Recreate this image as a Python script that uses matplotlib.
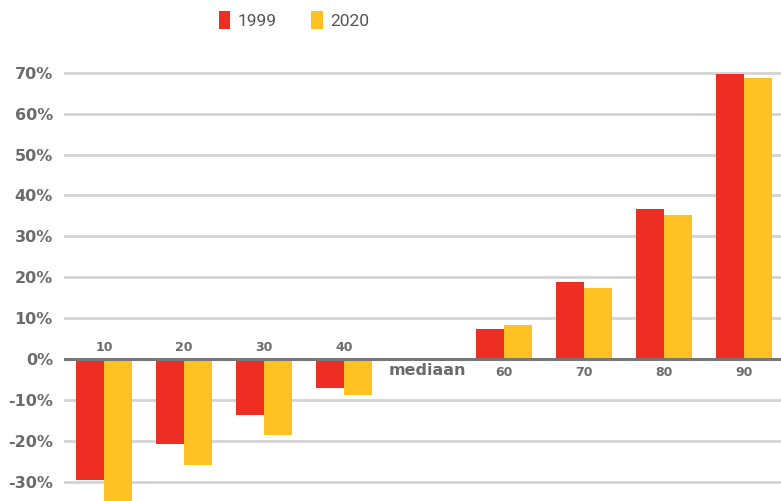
import matplotlib.pyplot as plt
import numpy as np

categorieen = ["10", "20", "30", "40", "mediaan", "60", "70", "80", "90"]
waarden_1999 = [-29.6, -20.8, -13.7, -7.0, 0.0, 7.3, 18.8, 36.7, 69.7]
waarden_2020 = [-35.5, -25.9, -18.6, -8.8, 0.0, 8.3, 17.4, 35.2, 68.8]
yticks = [-30, -20, -10, 0, 10, 20, 30, 40, 50, 60, 70]

ROOD = "#EE2E24"
GEEL = "#FFC222"
GRIJS = "#6b6b6b"

fig = plt.figure(figsize=(7.81, 5.01), dpi=100)
ax = fig.add_axes([64 / 781, 0, (781 - 64) / 781, (501 - 52) / 501])

x = np.arange(len(categorieen))
w = 0.35
ax.bar(x - w / 2, waarden_1999, width=w, color=ROOD, label="1999", zorder=3)
ax.bar(x + w / 2, waarden_2020, width=w, color=GEEL, label="2020", zorder=3)

# rasterlijnen
for t in yticks:
    if t == 0:
        ax.axhline(0, color="#777777", lw=2.2, zorder=4)
    else:
        ax.axhline(t, color="#d4d4d4", lw=2.0, zorder=1)

ax.set_xlim(-0.5, 8.46)
ax.set_ylim(-34.75, 75.1)
ax.set_yticks(yticks)
ax.set_yticklabels([f"{t}%" for t in yticks], fontsize=11.5, fontweight="bold", color=GRIJS)
ax.tick_params(axis="y", length=0, pad=8)
ax.set_xticks([])
for s in ax.spines.values():
    s.set_visible(False)

# categorie-labels langs de nullijn
for i, c in enumerate(categorieen):
    if c == "mediaan":
        ax.text(i + 0.04, -2.9, c, ha="center", va="center", fontsize=11.5,
                fontweight="bold", color=GRIJS)
    elif waarden_1999[i] < 0:
        ax.text(i, 2.9, c, ha="center", va="center", fontsize=9,
                fontweight="bold", color=GRIJS)
    else:
        ax.text(i, -3.2, c, ha="center", va="center", fontsize=9,
                fontweight="bold", color=GRIJS)

fig.legend(loc="upper center", bbox_to_anchor=(0.376, 1.01), ncol=2, frameon=False,
           handlelength=0.68, handleheight=1.25, handletextpad=0.4, columnspacing=2.0,
           prop={"family": "Roboto", "size": 12.5}, labelcolor="#555555")

fig.savefig("out.png", dpi=100, facecolor="white")
